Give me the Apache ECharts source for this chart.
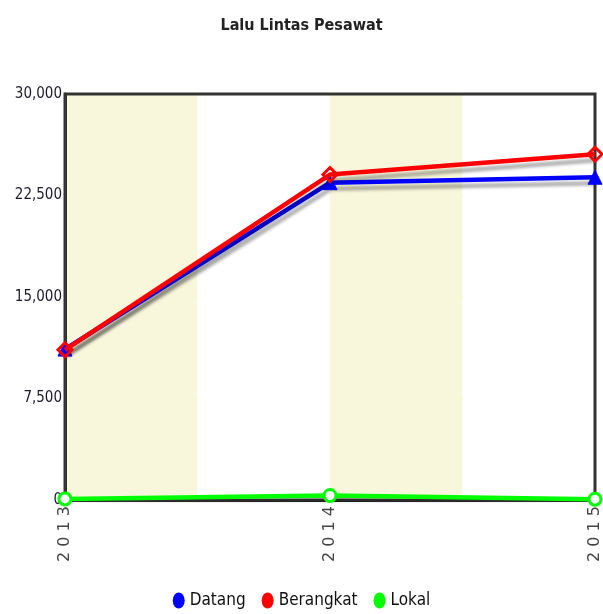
<!DOCTYPE html>
<html><head><meta charset="utf-8">
<script src="https://cdn.jsdelivr.net/npm/echarts@6/dist/echarts.min.js"></script>
<style>html,body{margin:0;padding:0;background:#fff}#c{width:603px;height:614px}</style>
</head><body><div id="c"></div>
<script>
var categories = ['2013', '2014', '2015'];
var datang = [11150, 23450, 23850];
var berangkat = [11100, 24050, 25550];
var lokal = [80, 330, 60];
var yTicks = [0, 7500, 15000, 22500, 30000];

var chart = echarts.init(document.getElementById('c'));
var font = 'DejaVu Sans Condensed';
function lineSeries(name, data, color, symbol, size, extra) {
  return Object.assign({
    name: name, type: 'line', data: data, xAxisIndex: 0, yAxisIndex: 0,
    symbol: symbol, symbolSize: size, showAllSymbol: true,
    lineStyle: { color: color, width: 4.5, shadowColor: 'rgba(0,0,0,0.3)', shadowBlur: 3, shadowOffsetY: 6, shadowOffsetX: 1 },
    itemStyle: { color: color, borderColor: color, borderWidth: 3 },
    z: 3
  }, extra || {});
}
var ellipse = 'path://M6,0 A6,8 0 1,1 6,16 A6,8 0 1,1 6,0 Z';
chart.setOption({
  animation: false,
  title: { text: 'Lalu Lintas Pesawat', left: 'center', top: 13,
    textStyle: { fontFamily: font, fontSize: 16, fontWeight: 'bold', color: '#222' } },
  legend: { bottom: 0, left: 'center', itemWidth: 12, itemHeight: 16, itemGap: 16,
    textStyle: { fontFamily: font, fontSize: 17, color: '#111', padding: [3, 0, 0, 0] },
    data: [{name:'Datang', icon: ellipse, itemStyle:{color:'#0000ff', borderWidth:0}},
           {name:'Berangkat', icon: ellipse, itemStyle:{color:'#ff0000', borderWidth:0}},
           {name:'Lokal', icon: ellipse, itemStyle:{color:'#00ff00', borderWidth:0}}] },
  grid: { left: 65, right: 7, top: 94, bottom: 114, show: true, z: 2, borderColor: '#333', borderWidth: 3, backgroundColor: 'transparent' },
  xAxis: [{
    type: 'category', data: categories, boundaryGap: false,
    axisLine: { lineStyle: { color: '#333', width: 3 } },
    axisTick: { show: false },
    axisLabel: { rotate: 90, color: '#444', fontFamily: 'DejaVu Sans', fontSize: 16, margin: 6,
      formatter: function (v) { return v.split('').join(' '); } },
    splitLine: { show: false }
  }, {
    type: 'value', min: 0, max: 4, interval: 1, show: true, position: 'bottom',
    axisLine: { show: false }, axisTick: { show: false }, axisLabel: { show: false },
    splitLine: { show: false },
    splitArea: { show: true, areaStyle: { color: ['#f8f7dc', '#ffffff'] } }
  }],
  yAxis: {
    type: 'value', min: 0, max: 30000, interval: 7500,
    axisLine: { show: true, lineStyle: { color: '#333', width: 3 } },
    axisTick: { show: false },
    axisLabel: { color: '#1a1a2a', fontFamily: font, fontSize: 15, margin: 3,
      formatter: function (v) { return v.toLocaleString('en-US'); } },
    splitLine: { lineStyle: { color: '#eee47a', width: 2 } }
  },
  series: [
    lineSeries('Lokal', lokal, '#00ff00', 'circle', 12, { itemStyle: { color: '#ffffff', borderColor: '#00ff00', borderWidth: 3 }, z: 4 }),
    lineSeries('Datang', datang, '#0000ff', 'triangle', 14, { itemStyle: { color: '#0000ff', borderColor: '#0000ff', borderWidth: 1 } }),
    lineSeries('Berangkat', berangkat, '#ff0000', 'diamond', 14, { itemStyle: { color: 'rgba(0,0,0,0)', borderColor: '#ff0000', borderWidth: 3 }, z: 5 })
  ]
});
</script></body></html>
